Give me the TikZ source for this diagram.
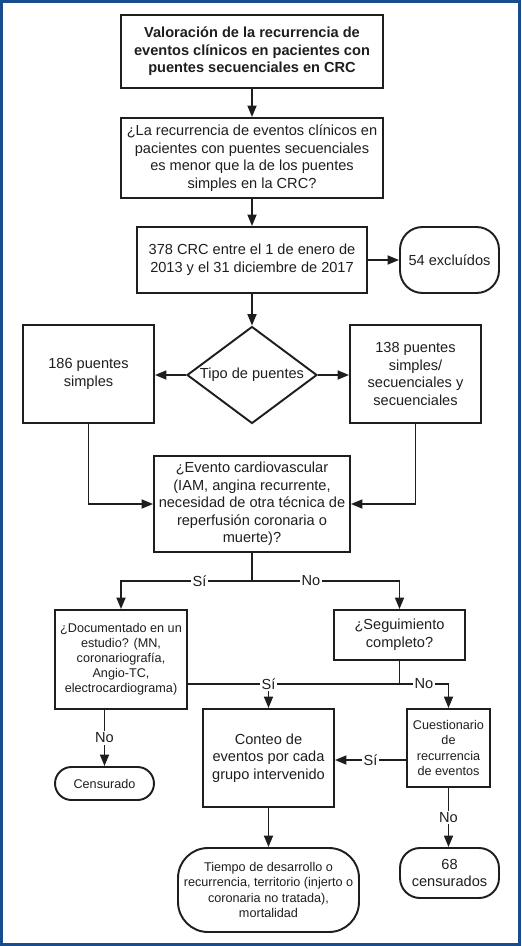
\documentclass[tikz,border=0pt]{standalone}
\usepackage{fontspec}
\setmainfont{Liberation Sans}
\usetikzlibrary{arrows.meta,shapes.geometric}
\definecolor{marco}{HTML}{184C8C}
\definecolor{tinta}{HTML}{1E1E1E}
\newcommand{\normtxt}{\fontsize{8.3}{10}\selectfont}
\newcommand{\chicotxt}{\fontsize{7.2}{8.6}\selectfont}

\begin{document}
\begin{tikzpicture}[x=0.02cm, y=-0.02cm,
    every node/.style={font=\normtxt, text=tinta, align=center},
    box/.style={draw=tinta, line width=1.1pt, rectangle, inner sep=1pt},
    term/.style={draw=tinta, line width=1.1pt, rectangle, inner sep=1pt},
    decision/.style={draw=tinta, line width=1.1pt, diamond, aspect=1.34,
      inner sep=0pt, minimum width=2.6cm, minimum height=1.94cm},
    conn/.style={draw=tinta, line width=1pt},
    flow/.style={conn, -{Triangle[length=0.23cm,width=0.18cm]}},
    lbl/.style={fill=white, inner sep=1pt}]
    \useasboundingbox (0,0) rectangle (521,946);
    \draw[marco, line width=0.06cm] (1.5,1.5) rectangle (519.5,944.5);
    \node[box, font=\normtxt\bfseries, minimum width=5.24cm,
      minimum height=1.46cm] (titulo) at (252,51.5)
      {Valoración de la recurrencia de\\eventos clínicos en pacientes con\\puentes secuenciales en CRC};
    \node[box, minimum width=5.24cm, minimum height=1.6cm] (pregunta) at (252,158)
      {¿La recurrencia de eventos clínicos en\\pacientes con puentes secuenciales\\es menor que la de los puentes\\simples en la CRC?};
    \node[box, minimum width=4.6cm, minimum height=1.32cm] (crc) at (252,260)
      {378 CRC entre el 1 de enero de\\2013 y el 31 diciembre de 2017};
    \node[term, rounded corners=0.45cm, minimum width=1.98cm,
      minimum height=1.32cm] (excl) at (449.5,260) {54 excluídos};
    \node[decision] (tipo) at (252,375) {Tipo de puentes};
    \node[box, minimum width=2.62cm, minimum height=1.96cm] (simples) at (88.5,374)
      {186 puentes\\simples};
    \node[box, minimum width=2.62cm, minimum height=1.96cm] (secu) at (415.5,374)
      {138 puentes\\simples/\\secuenciales y\\secuenciales};
    \node[box, minimum width=3.92cm, minimum height=1.92cm] (evento) at (252,504)
      {¿Evento cardiovascular\\(IAM, angina recurrente,\\necesidad de otra técnica de\\reperfusión coronaria o\\muerte)?};
    \node[box, font=\chicotxt, minimum width=2.64cm, minimum height=1.98cm] (doc) at (121,659.5)
      {¿Documentado en un\\estudio? (MN,\\coronariografía,\\Angio-TC,\\electrocardiograma)};
    \node[box, minimum width=2.62cm, minimum height=1cm] (seg) at (399.5,635)
      {¿Seguimiento\\completo?};
    \node[box, minimum width=2.62cm, minimum height=1.96cm] (conteo) at (268.5,758)
      {Conteo de\\eventos por cada\\grupo intervenido};
    \node[box, font=\chicotxt, minimum width=1.66cm, minimum height=1.56cm] (cuest) at (448.5,748)
      {Cuestionario\\de\\recurrencia\\de eventos};
    \node[term, font=\chicotxt, rounded corners=0.33cm, minimum width=1.98cm,
      minimum height=0.66cm] (cens) at (104.5,783.5) {Censurado};
    \node[term, rounded corners=0.4cm, minimum width=1.98cm,
      minimum height=1cm] (cens68) at (449.5,873) {68\\censurados};
    \node[term, font=\chicotxt, rounded corners=0.6cm, minimum width=3.62cm,
      minimum height=1.68cm] (tiempo) at (268.5,890)
      {Tiempo de desarrollo o\\recurrencia, territorio (injerto o\\coronaria no tratada),\\mortalidad};
    \coordinate (jev) at (252,581);
    \coordinate (jsi) at (268.5,684);
    \coordinate (jseg) at (399.5,684);
    \draw[flow] (titulo) -- (pregunta);
    \draw[flow] (pregunta) -- (crc);
    \draw[flow] (crc) -- (excl);
    \draw[flow] (crc) -- (tipo);
    \draw[flow] (tipo.west) -- (tipo.west -| simples.east);
    \draw[flow] (tipo.east) -- (tipo.east -| secu.west);
    \draw[flow] (simples.south) |- (evento.west);
    \draw[flow] (secu.south) |- (evento.east);
    \draw[conn] (evento.south) -- (jev);
    \draw[flow] (jev) -- node[lbl, pos=0.4] (lsi1) {Sí} (jev -| doc.north) -- (doc.north);
    \draw[flow] (jev) -- node[lbl, pos=0.4] (lno1) {No} (jev -| seg.north) -- (seg.north);
    \draw[conn] (doc.east |- jsi) -- (jsi);
    \draw[conn] (seg.south) -- (jseg) -- (jsi);
    \draw[flow] (jsi) -- (conteo.north);
    \node[lbl] (lsi2) at (jsi) {Sí};
    \draw[flow] (jseg) -- node[lbl] (lno2) {No} (jseg -| cuest.north) -- (cuest.north);
    \draw[flow] ([yshift=-0.24cm]cuest.west) -- node[lbl] (lsi3) {Sí}
      ([yshift=-0.24cm]cuest.west -| conteo.east);
    \draw[flow] (cuest.south) -- node[lbl] (lno3) {No} (cuest.south |- cens68.north);
    \draw[flow] (conteo) -- (tiempo);
    \draw[flow] (doc.south -| cens.north) -- node[lbl] (lno4) {No} (cens.north);
  \end{tikzpicture}
\end{document}
